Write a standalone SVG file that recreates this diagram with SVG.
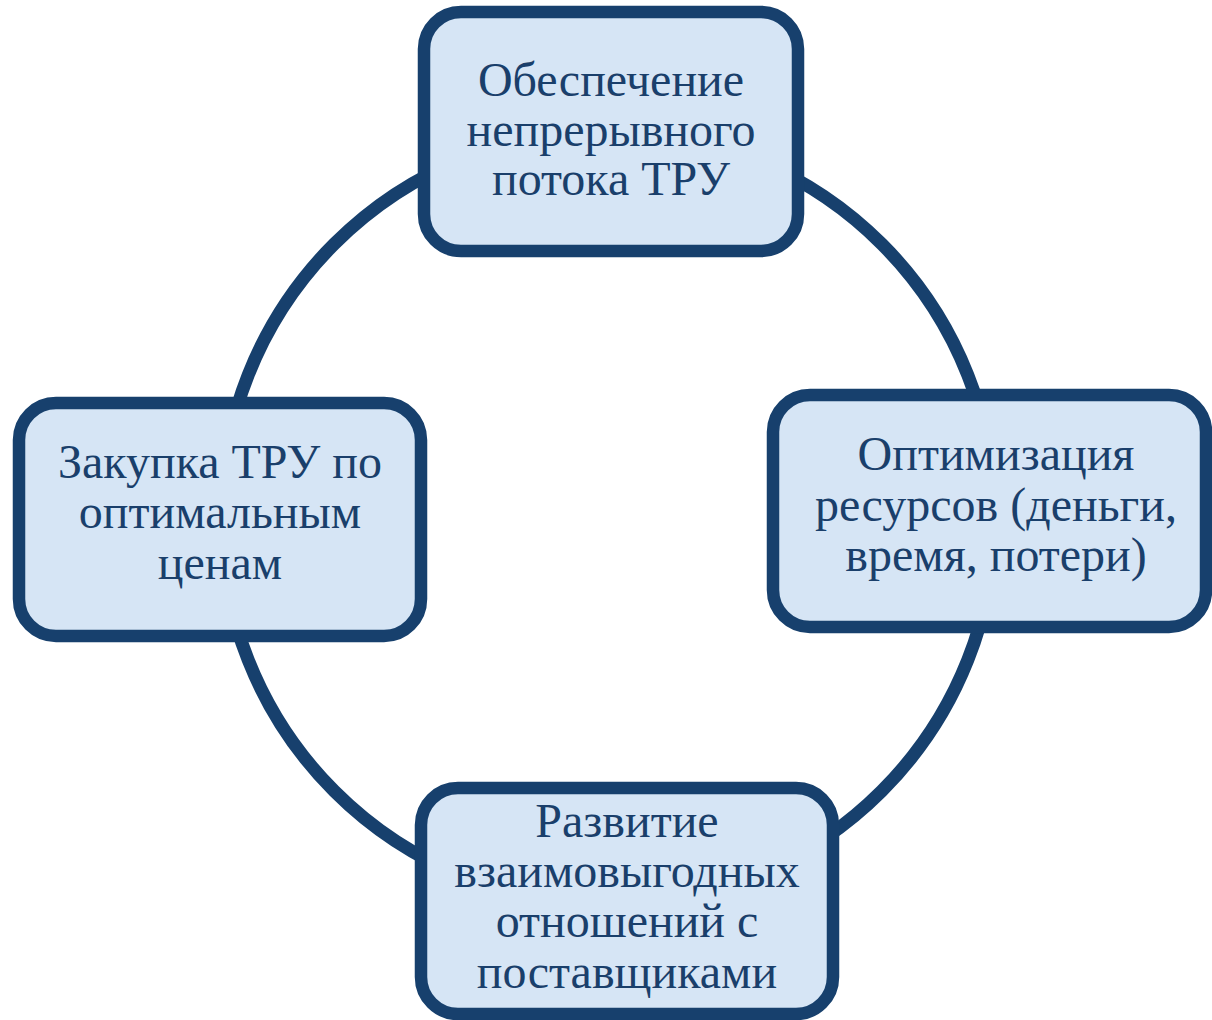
<svg xmlns="http://www.w3.org/2000/svg" width="1212" height="1020" viewBox="0 0 1212 1020">
<style>
.edge{fill:none;stroke:#17406D;stroke-width:13}
.box{fill:#D6E5F5;stroke:#17406D;stroke-width:12.5}
.lbl{font-family:"Liberation Serif","Times New Roman",serif;font-size:48px;fill:#1A3F6B;text-anchor:middle}
</style>
<rect width="1212" height="1020" fill="#FFFFFF"/>
<g id="connectors">
<path class="edge" d="M 608 130.5 A 387 387 0 0 0 221 517.5"/>
<path class="edge" d="M 221 517.5 A 387 387 0 0 0 608 904.5"/>
<path class="edge" d="M 608 904.5 A 387 387 0 0 0 995 517.5"/>
<path class="edge" d="M 995 517.5 A 387 387 0 0 0 608 130.5"/>
</g>
<g id="node-top">
<rect class="box" x="424" y="12" width="374" height="239" rx="37"/>
<text class="lbl" x="611" y="96">Обеспечение</text>
<text class="lbl" x="611" y="146">непрерывного</text>
<text class="lbl" x="611" y="195">потока ТРУ</text>
</g>
<g id="node-left">
<rect class="box" x="19" y="403" width="402" height="233" rx="37"/>
<text class="lbl" x="220" y="478">Закупка ТРУ по</text>
<text class="lbl" x="220" y="528">оптимальным</text>
<text class="lbl" x="220" y="579">ценам</text>
</g>
<g id="node-right">
<rect class="box" x="773" y="395" width="433" height="232" rx="37"/>
<text class="lbl" x="996" y="470">Оптимизация</text>
<text class="lbl" x="996" y="521">ресурсов (деньги,</text>
<text class="lbl" x="996" y="571">время, потери)</text>
</g>
<g id="node-bottom">
<rect class="box" x="421" y="788" width="412" height="226" rx="37"/>
<text class="lbl" x="627" y="837">Развитие</text>
<text class="lbl" x="627" y="887">взаимовыгодных</text>
<text class="lbl" x="627" y="937">отношений с</text>
<text class="lbl" x="627" y="988">поставщиками</text>
</g>
</svg>
